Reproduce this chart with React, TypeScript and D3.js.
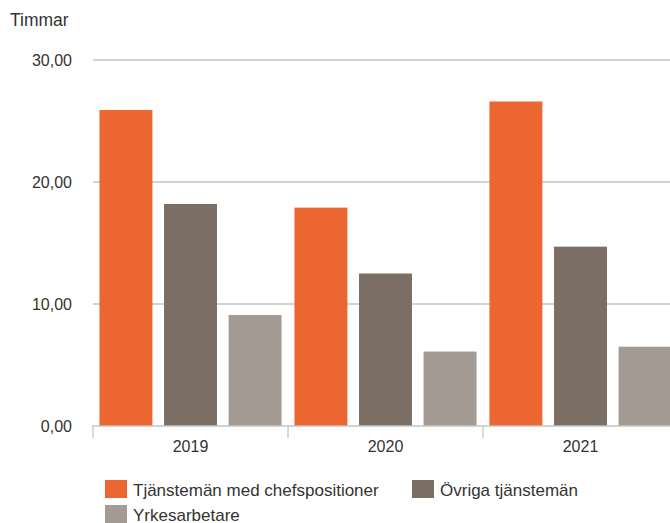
import React from "react";
import * as d3 from "d3";

const categories = ["2019", "2020", "2021"];
const seriesNames = ["Tjänstemän med chefspositioner", "Övriga tjänstemän", "Yrkesarbetare"];
const chefValues = [25.9, 17.9, 26.6];
const ovrigaValues = [18.2, 12.5, 14.7];
const yrkesValues = [9.1, 6.1, 6.5];
const yTicks = [0, 10, 20, 30];
const colors = ["#EB6630", "#7A6E65", "#A39A94"];

const W = 670;
const H = 523;

export default function App() {
  const series = [chefValues, ovrigaValues, yrkesValues];
  const y = d3.scaleLinear().domain([0, 30]).range([426, 60]);
  const x0 = d3.scaleBand<string>().domain(categories).range([93, 678]).padding(0);
  const x1 = d3
    .scaleBand<number>()
    .domain([0, 1, 2])
    .range([0, x0.bandwidth()])
    .paddingInner(0.18)
    .paddingOuter(0.1);
  const fmt = (v: number) => v.toFixed(2).replace(".", ",");
  const font = "'Liberation Sans', Arial, Helvetica, sans-serif";
  const grid = "#C9C3BC";
  const txt = "#333";
  return (
    <svg
      width={W}
      height={H}
      style={{ position: "absolute", left: 0, top: 0, fontFamily: font }}
    >
      <rect width={W} height={H} fill="#fff" />
      <text x={10} y={26} fontSize={17.5} fill={txt}>
        Timmar
      </text>
      {yTicks.map((t) => (
        <g key={t}>
          {t > 0 && (
            <line x1={93} x2={W} y1={y(t)} y2={y(t)} stroke={grid} strokeWidth={1.3} />
          )}
          <text x={72} y={y(t)} dy="0.35em" textAnchor="end" fontSize={16} fill={txt}>
            {fmt(t)}
          </text>
        </g>
      ))}
      {categories.map((c, ci) => (
        <g key={c}>
          {series.map((s, si) => (
            <rect
              key={si}
              x={(x0(c) as number) + (x1(si) as number)}
              width={x1.bandwidth()}
              y={y(s[ci])}
              height={y(0) - y(s[ci])}
              fill={colors[si]}
            />
          ))}
        </g>
      ))}
      <line x1={92} x2={W} y1={y(0)} y2={y(0)} stroke={grid} strokeWidth={1.3} />
      {categories.map((c) => (
        <g key={"t" + c}>
          <line
            x1={x0(c) as number}
            x2={x0(c) as number}
            y1={y(0)}
            y2={y(0) + 12}
            stroke={grid}
            strokeWidth={1.3}
          />
          <text
            x={(x0(c) as number) + x0.bandwidth() / 2}
            y={452}
            textAnchor="middle"
            fontSize={16}
            fill={txt}
          >
            {c}
          </text>
        </g>
      ))}
      {[
        { i: 0, x: 105, y: 480 },
        { i: 1, x: 412, y: 480 },
        { i: 2, x: 105, y: 505 },
      ].map((l) => (
        <g key={"l" + l.i}>
          <rect x={l.x} y={l.y} width={22} height={18} fill={colors[l.i]} />
          <text x={l.x + 28} y={l.y + 15.5} fontSize={17} fill={txt}>
            {seriesNames[l.i]}
          </text>
        </g>
      ))}
    </svg>
  );
}
